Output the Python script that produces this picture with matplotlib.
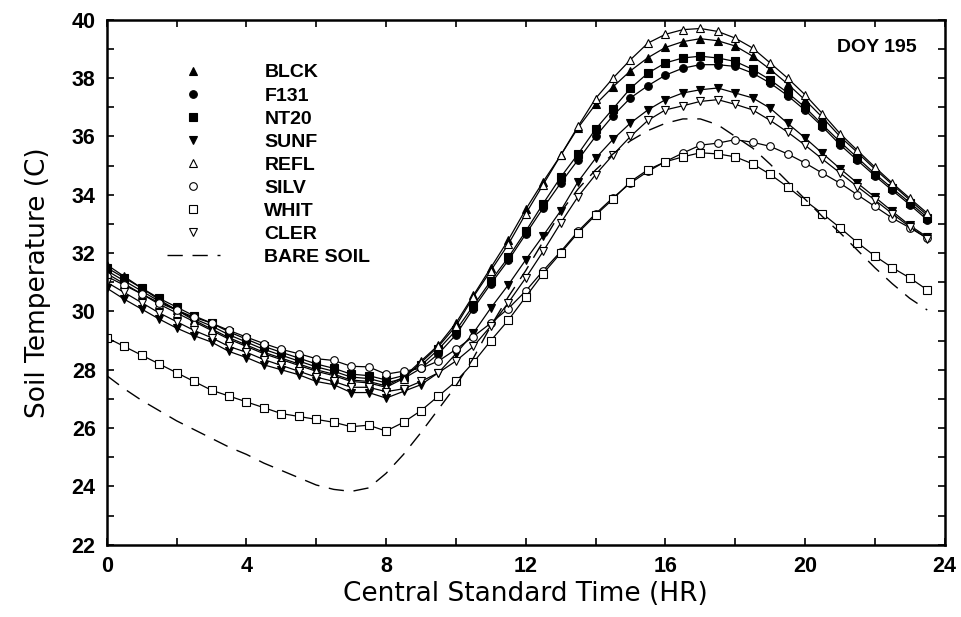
import numpy as np
import matplotlib.pyplot as plt
from matplotlib.lines import Line2D
from matplotlib.ticker import MultipleLocator

# half-hourly soil temperatures (C), DOY 195
hours = np.arange(0, 24, 0.5)

blck = [31.6, 31.2, 30.8, 30.4, 30.05, 29.7, 29.4, 29.1, 28.85, 28.6, 28.4, 28.2, 28.0, 27.85, 27.65, 27.6, 27.45,
        27.75, 28.3, 28.85, 29.6,
        30.55, 31.5, 32.45, 33.5, 34.45, 35.35, 36.3, 37.1, 37.7, 38.25, 38.7, 39.05, 39.25, 39.35, 39.28, 39.1,
        38.75, 38.3, 37.8, 37.25, 36.65, 36.0, 35.45, 34.88, 34.35, 33.82, 33.3]
f131 = [31.4, 31.05, 30.7, 30.35, 30.05, 29.75, 29.5, 29.2, 28.95, 28.7, 28.5, 28.3, 28.1, 27.95, 27.75, 27.7, 27.55,
        27.7, 28.05, 28.55, 29.2,
        30.1, 30.95, 31.75, 32.65, 33.55, 34.4, 35.2, 36.0, 36.71, 37.32, 37.74, 38.1, 38.34, 38.46, 38.46, 38.4,
        38.17, 37.83, 37.4, 36.9, 36.33, 35.72, 35.18, 34.65, 34.15, 33.66, 33.14]
nt20 = [31.5, 31.15, 30.8, 30.45, 30.15, 29.85, 29.6, 29.3, 29.05, 28.8, 28.6, 28.4, 28.2, 28.05, 27.85, 27.8, 27.65,
        27.8, 28.15, 28.7, 29.35,
        30.2, 31.05, 31.85, 32.75, 33.7, 34.6, 35.4, 36.25, 36.95, 37.65, 38.17, 38.52, 38.69, 38.75, 38.69, 38.57,
        38.3, 37.94, 37.5, 37.0, 36.4, 35.82, 35.27, 34.72, 34.22, 33.73, 33.22]
sunf = [30.8, 30.42, 30.08, 29.74, 29.43, 29.17, 28.95, 28.63, 28.42, 28.17, 28.0, 27.83, 27.6, 27.49, 27.22, 27.22, 27.03,
        27.26, 27.49, 27.9, 28.55,
        29.26, 30.12, 30.91, 31.77, 32.6, 33.45, 34.45, 35.25, 35.9, 36.46, 36.91, 37.26, 37.49, 37.6, 37.66, 37.49,
        37.32, 36.97, 36.45, 35.95, 35.42, 34.9, 34.4, 33.92, 33.43, 32.95, 32.55]
refl = [31.3, 30.95, 30.6, 30.25, 29.95, 29.65, 29.35, 29.05, 28.8, 28.55, 28.35, 28.15, 27.95, 27.8, 27.6, 27.55, 27.4,
        27.7, 28.25, 28.8, 29.5,
        30.5, 31.4, 32.3, 33.35, 34.35, 35.35, 36.35, 37.3, 38.0, 38.63, 39.2, 39.5, 39.66, 39.7, 39.6, 39.37,
        39.03, 38.52, 38.0, 37.43, 36.78, 36.1, 35.52, 34.95, 34.4, 33.88, 33.37]
silv = [31.2, 30.9, 30.6, 30.3, 30.05, 29.8, 29.6, 29.35, 29.12, 28.9, 28.7, 28.55, 28.38, 28.32, 28.12, 28.1, 27.85,
        27.95, 28.05, 28.3, 28.7,
        29.14, 29.6, 30.1, 30.7, 31.4, 32.05, 32.75, 33.35, 33.9, 34.4, 34.8, 35.14, 35.43, 35.7, 35.77, 35.89,
        35.8, 35.66, 35.4, 35.09, 34.74, 34.4, 34.0, 33.6, 33.2, 32.87, 32.51]
whit = [29.1, 28.8, 28.5, 28.2, 27.9, 27.6, 27.3, 27.1, 26.9, 26.7, 26.5, 26.4, 26.3, 26.2, 26.05, 26.1, 25.9,
        26.2, 26.6, 27.1, 27.6,
        28.25, 29.0, 29.7, 30.5, 31.3, 32.0, 32.7, 33.3, 33.85, 34.45, 34.86, 35.13, 35.3, 35.44, 35.4, 35.3,
        35.06, 34.7, 34.27, 33.8, 33.35, 32.87, 32.36, 31.9, 31.5, 31.15, 30.74]
cler = [31.0, 30.65, 30.3, 29.95, 29.65, 29.35, 29.1, 28.8, 28.6, 28.35, 28.15, 27.95, 27.75, 27.6, 27.4, 27.4, 27.25,
        27.35, 27.6, 27.9, 28.3,
        28.8, 29.5, 30.3, 31.15, 32.06, 33.03, 33.94, 34.69, 35.37, 36.0, 36.55, 36.91, 37.05, 37.2, 37.26, 37.1,
        36.91, 36.55, 36.15, 35.7, 35.22, 34.75, 34.28, 33.82, 33.35, 32.9, 32.5]
bare = [27.8, 27.35, 26.95, 26.6, 26.25, 25.95, 25.65, 25.35, 25.1, 24.8, 24.55, 24.3, 24.05, 23.9, 23.83, 23.95, 24.45,
        25.1, 25.85, 26.65, 27.45,
        28.4, 29.5, 30.5, 31.4, 32.4, 33.4, 34.2, 34.85, 35.4, 35.85, 36.2, 36.45, 36.6, 36.6, 36.4, 36.0,
        35.6, 35.05, 34.45, 33.85, 33.25, 32.7, 32.1, 31.5, 30.95, 30.45, 30.05]

labels = ['BLCK', 'F131', 'NT20', 'SUNF', 'REFL', 'SILV', 'WHIT', 'CLER']
series = [blck, f131, nt20, sunf, refl, silv, whit, cler]
markers = ['^', 'o', 's', 'v', '^', 'o', 's', 'v']
filled = [True, True, True, True, False, False, False, False]
msizes = [6, 5.5, 5.5, 6, 6, 5.5, 5.5, 6]

fig = plt.figure(figsize=(9.62, 6.17), dpi=100)
ax = fig.add_axes([0.111, 0.117, 0.871, 0.851])

handles = []
for vals, lab, m, f, s in zip(series, labels, markers, filled, msizes):
    fc = 'black' if f else 'white'
    ax.plot(hours, vals, color='black', lw=0.9, marker=m, ms=s, mfc=fc, mec='black', mew=0.8)
    handles.append(Line2D([], [], ls='none', marker=m, ms=s, mfc=fc, mec='black', mew=0.8, label=lab))

dash = (0, (11, 7))
ax.plot(hours, bare, color='black', lw=1.0, ls=dash)
handles.append(Line2D([], [], color='black', lw=1.0, ls=dash, label='BARE SOIL'))

ax.set_xlim(0, 24)
ax.set_ylim(22, 40)
ax.xaxis.set_major_locator(MultipleLocator(4))
ax.xaxis.set_minor_locator(MultipleLocator(2))
ax.yaxis.set_major_locator(MultipleLocator(2))
ax.yaxis.set_minor_locator(MultipleLocator(1))
ax.tick_params(which='both', direction='in', top=True, right=True, length=5, width=1.2)
ax.tick_params(which='major', labelsize=15.5, pad=8)
for lbl in ax.get_xticklabels() + ax.get_yticklabels():
    lbl.set_fontfamily('Liberation Sans')
    lbl.set_fontweight('bold')
for sp in ax.spines.values():
    sp.set_linewidth(1.8)

ax.set_xlabel('Central Standard Time (HR)', fontsize=19, family='DejaVu Sans', labelpad=3)
ax.set_ylabel('Soil Temperature (C)', fontsize=19, family='DejaVu Sans', labelpad=15)

ax.text(0.967, 0.948, 'DOY 195', transform=ax.transAxes, ha='right', va='center',
        fontsize=14, fontweight='bold', family='Liberation Sans')

ax.legend(handles=handles, loc='upper left', bbox_to_anchor=(0.072, 0.916), frameon=False,
          borderaxespad=0, borderpad=0, handlelength=2.7, handletextpad=2.3, labelspacing=0.28,
          prop={'family': 'Liberation Sans', 'weight': 'bold', 'size': 14})

fig.savefig('out.png', dpi=100)
